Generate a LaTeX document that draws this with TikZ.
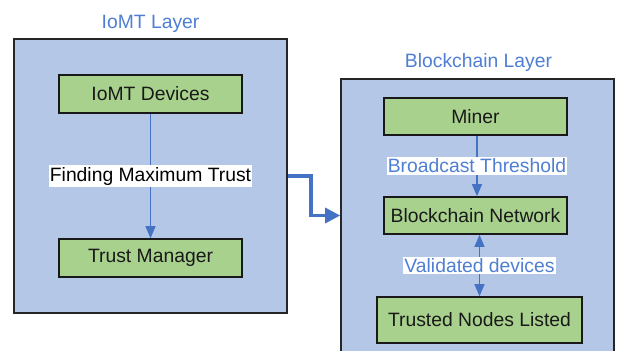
\documentclass[tikz,border=0pt]{standalone}
\usepackage{fontspec}
\setmainfont{Liberation Sans}
\usetikzlibrary{arrows.meta}
\definecolor{panelfill}{HTML}{B4C7E7}
\definecolor{boxfill}{HTML}{A9D18E}
\definecolor{linkblue}{HTML}{4472C4}
\definecolor{titleblue}{HTML}{4F7FD4}
\tikzset{
  panel/.style={draw=black!85, line width=1.6bp, fill=panelfill, inner sep=0pt},
  stepbox/.style={draw=black!90, line width=1.6bp, fill=boxfill, minimum width=183bp, inner sep=0pt, text=black!90},
  flow/.style={draw=linkblue, line width=1.1bp, -{Triangle[length=12bp,width=10bp]}},
  flowboth/.style={draw=linkblue, line width=1.1bp, {Triangle[length=12bp,width=10bp]}-{Triangle[length=12bp,width=10bp]}},
  lbl/.style={fill=white, inner xsep=1bp, inner ysep=1.5bp},
  ttl/.style={text=titleblue},
}
\begin{document}
\begin{tikzpicture}[x=1bp,y=-1bp, font=\fontsize{19.4}{23}\selectfont]
\useasboundingbox (0,0) rectangle (620,350);
\clip (0,0) rectangle (620,350);
\fill[white] (0,0) rectangle (620,350);
% panels
\node[panel, minimum width=273bp, minimum height=274bp] (lp) at (150.5,176) {};
\node[panel, minimum width=273bp, minimum height=291bp] (rp) at (477.5,224.5) {};
% titles
\node[ttl] (t1) at (150.5,24) {IoMT Layer};
\node[ttl] (t2) at (478.5,62) {Blockchain Layer};
% boxes
\node[stepbox, minimum height=38bp] (dev) at (150.5,94) {IoMT Devices};
\node[stepbox, minimum height=38bp] (tm) at (150.5,258) {Trust Manager};
\node[stepbox, minimum height=37bp] (miner) at (475.5,116.5) {Miner};
\node[stepbox, minimum height=37bp] (bn) at (475.5,215.5) {Blockchain Network};
\node[stepbox, minimum width=205bp, minimum height=46bp] (tnl) at (479.5,320) {Trusted Nodes Listed};
% connectors
\draw[flow] (dev.south) -- node[lbl] (l1) {Finding Maximum Trust} (tm.north);
\draw[flow] ([xshift=1.5bp]miner.south) -- node[lbl, text=titleblue] (l2) {Broadcast Threshold} ([xshift=1.5bp]bn.north);
\draw[flowboth] (bn.south -| tnl.north) -- node[lbl, text=titleblue] (l3) {Validated devices} (tnl.north);
\coordinate (k) at (311,215.5);
\draw[draw=linkblue, line width=3.2bp, -{Triangle[length=15bp,width=15bp]}] (lp.east) -| (k) -- (k -| rp.west);
\end{tikzpicture}
\end{document}
